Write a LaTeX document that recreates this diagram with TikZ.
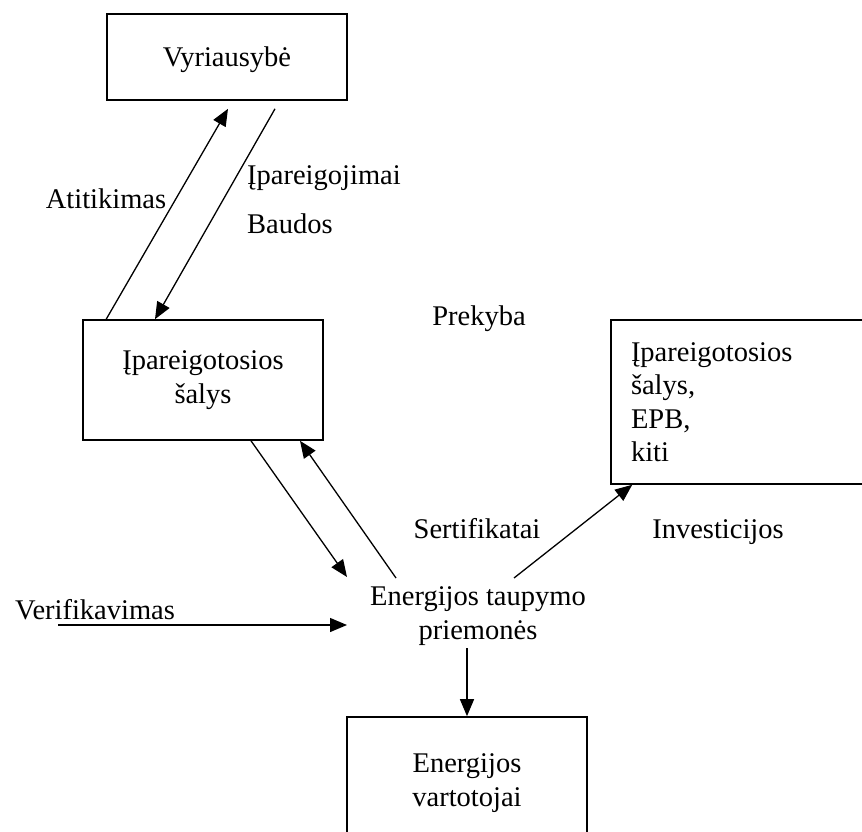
\documentclass[tikz,border=0pt]{standalone}
\usepackage{fontspec}
\setmainfont{Liberation Serif}
\usetikzlibrary{arrows.meta}

\newcommand{\diagfont}{\fontsize{28.5}{33.5}\selectfont}

\tikzset{
  box/.style={draw, line width=1.6pt, minimum width=240pt, align=center, font=\diagfont},
  lbl/.style={font=\diagfont, inner sep=0pt},
  flow/.style={line width=1.3pt, -{Triangle[length=17pt,width=14pt]}},
}

\begin{document}
\begin{tikzpicture}[x=1pt, y=-1pt]

    % Fix the page to the size of the reference
    \useasboundingbox (0,0) rectangle (862,832);

    % Draw the boxes
    \node[box, minimum height=86pt, text depth=0pt] (gov) at (227,57) {Vyriausybė};
    \node[box, minimum height=120pt] (oblig) at (203,380) {Įpareigotosios\\šalys};
    \node[box, minimum height=164pt, minimum width=270pt, text width=230pt, inner xsep=20pt, align=left] (traders) at (746,402) {Įpareigotosios\\šalys,\\EPB,\\kiti};
    \node[box, minimum height=132pt] (users) at (467,783) {Energijos\\vartotojai};

    % The measures in the middle have no frame
    \node[lbl, align=center] (saving) at (478,616) {Energijos taupymo\\priemonės};

    % Free ends of the arrows around the measures
    \coordinate (inSave) at (347,577);
    \coordinate (outCert) at (396,578);
    \coordinate (outInv) at (514,578);
    \coordinate (verifStart) at (58,625);
    \coordinate (verifEnd) at (347,625);

    % Add the text labels next to the arrows
    \node[lbl, anchor=base] (compl) at (106,208) {Atitikimas};
    \node[lbl, anchor=base west] (duty) at (247,184) {Įpareigojimai};
    \node[lbl, anchor=base west] (fines) at (247,233) {Baudos};
    \node[lbl, anchor=base] (trade) at (479,325) {Prekyba};
    \node[lbl, anchor=base] (cert) at (477,538) {Sertifikatai};
    \node[lbl, anchor=base] (invest) at (718,538) {Investicijos};
    \node[lbl, anchor=base] (verif) at (95,619) {Verifikavimas};

    % Arrows between the government and the obliged parties
    \draw[flow] ([xshift=24pt]oblig.north west) -- ([shift={(1pt,-8pt)}]gov.south);
    \draw[flow] ([shift={(48pt,-8pt)}]gov.south) -- ([xshift=-48pt]oblig.north);

    % Arrows between the obliged parties and the measures
    \draw[flow] ([xshift=48pt]oblig.south) -- (inSave);
    \draw[flow] (outCert) -- ([xshift=97pt]oblig.south);

    % Verification, investments and the consumers
    \draw[flow] (verifStart) -- (verifEnd);
    \draw[flow] (outInv) -- ([xshift=22pt]traders.south west);
    \draw[flow] ([yshift=-3pt]saving.south -| users.north) -- (users.north);

\end{tikzpicture}
\end{document}
